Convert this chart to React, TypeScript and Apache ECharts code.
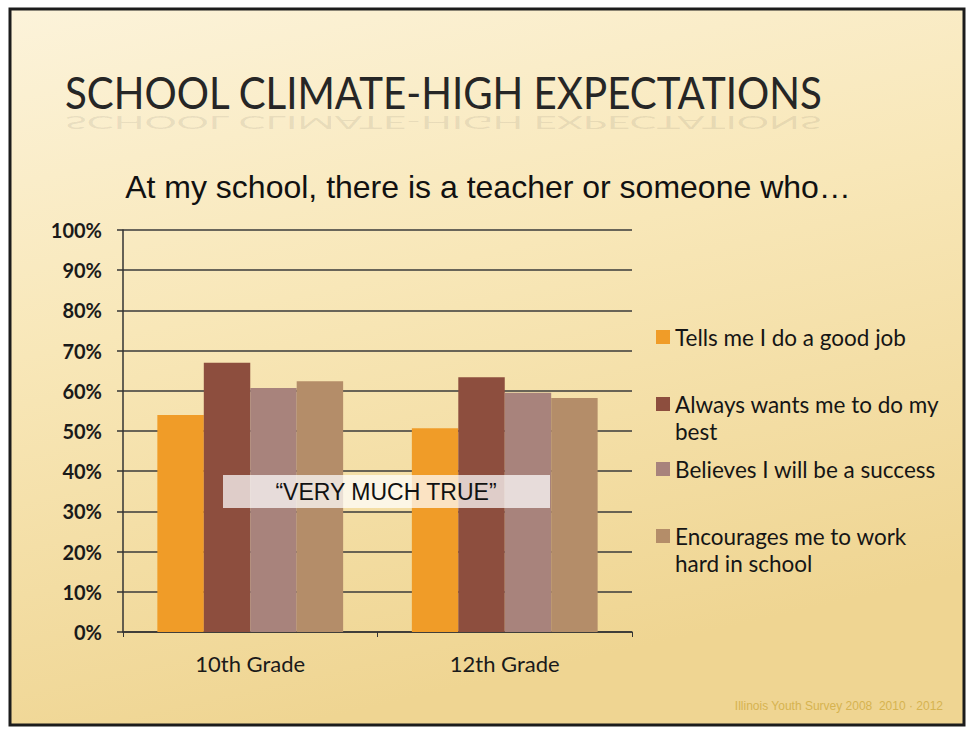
import React, { useEffect, useRef } from "react";
import * as echarts from "echarts";

const categories = ["10th Grade", "12th Grade"];
const seriesNames = [
  "Tells me I do a good job",
  "Always wants me to do my best",
  "Believes I will be a success",
  "Encourages me to work hard in school",
];
const tellsGoodJob = [54, 50.7];
const alwaysBest = [67, 63.4];
const believesSuccess = [60.7, 59.5];
const encouragesWork = [62.4, 58.2];
const seriesValues = [tellsGoodJob, alwaysBest, believesSuccess, encouragesWork];
const seriesColors = ["#f09c28", "#8d4e3e", "#a8837c", "#b48d69"];
const yTicks = [0, 10, 20, 30, 40, 50, 60, 70, 80, 90, 100];

const titleText = "SCHOOL CLIMATE-HIGH EXPECTATIONS";
const subtitleText = "At my school, there is a teacher or someone who…";
const boxText = "“VERY MUCH TRUE”";
const footerText = "Illinois Youth Survey 2008  2010 · 2012";

export default function App() {
  const ref = useRef<HTMLDivElement>(null);
  useEffect(() => {
    document.body.style.margin = "0";
    const chart = echarts.init(ref.current!, null, { renderer: "svg" });
    const legendTops = [323.5, 363.5, 455.5, 495.5];
    const twoLine = [false, true, false, true];
    const option: any = {
      animation: false,
      backgroundColor: "#ffffff",
      grid: { left: 123, right: 339, top: 230, bottom: 97 },
      legend: seriesNames.map((n, i) => ({
        data: [n],
        left: 656,
        top: legendTops[i],
        padding: 0,
        orient: "vertical",
        itemWidth: 14,
        itemHeight: 14,
        icon: "rect",
        selectedMode: false,
        formatter: (name: string) => (twoLine[i] ? "\n" + name : name),
        textStyle: {
          fontFamily: "Lato",
          fontSize: 22.5,
          color: "#151515",
          width: 275,
          overflow: "break",
          lineHeight: 27,
        },
      })),
      xAxis: {
        type: "category",
        data: categories,
        axisLine: { lineStyle: { color: "#333", width: 1.5 } },
        axisTick: { show: true, length: 5, lineStyle: { color: "#333" } },
        axisLabel: {
          fontFamily: "Lato",
          fontSize: 22,
          color: "#1a1a1a",
          margin: 20,
        },
      },
      yAxis: {
        type: "value",
        min: yTicks[0],
        max: yTicks[yTicks.length - 1],
        interval: 10,
        axisLine: { show: true, lineStyle: { color: "#333", width: 1.5 } },
        axisTick: { show: true, length: 6, lineStyle: { color: "#333", width: 1.5 } },
        splitLine: { lineStyle: { color: "#3a3a3a", width: 1.6 } },
        axisLabel: {
          formatter: "{value}%",
          fontFamily: "Lato",
          fontWeight: "bold",
          fontSize: 20,
          color: "#1a1a1a",
          margin: 21,
        },
      },
      series: seriesNames.map((n, i) => ({
        name: n,
        type: "bar",
        data: seriesValues[i],
        barGap: "0%",
        barCategoryGap: "27%",
        itemStyle: { color: seriesColors[i] },
        z: 2,
      })),
      graphic: [
        {
          type: "rect",
          z: -10,
          silent: true,
          shape: { x: 10, y: 9, width: 954, height: 716 },
          style: {
            fill: new echarts.graphic.LinearGradient(0, 0, 0.3, 1, [
              { offset: 0, color: "#fcf3da" },
              { offset: 0.45, color: "#f8e7b8" },
              { offset: 1, color: "#efd592" },
            ]),
            stroke: "#1c1c1c",
            lineWidth: 3,
          },
        },
        {
          type: "line",
          z: -9,
          silent: true,
          shape: { x1: 70, y1: 123, x2: 962, y2: 123 },
          style: {
            stroke: new echarts.graphic.LinearGradient(0, 0, 1, 0, [
              { offset: 0, color: "rgba(200,160,80,0.3)" },
              { offset: 0.2, color: "rgba(190,150,70,0.9)" },
              { offset: 1, color: "rgba(200,160,80,0.8)" },
            ]),
            lineWidth: 2,
          },
        },
        {
          type: "text",
          z: 5,
          x: 65,
          y: 114,
          scaleX: 0.915,
          style: {
            text: titleText,
            fontFamily: "Lato",
            fontSize: 44,
            fill: "#262626",
            verticalAlign: "bottom",
          },
        },
        {
          type: "text",
          z: 4,
          x: 65,
          y: 114,
          scaleX: 0.915,
          scaleY: -0.4,
          style: {
            text: titleText,
            fontFamily: "Lato",
            fontSize: 44,
            fill: "rgba(60,60,60,0.1)",
            verticalAlign: "bottom",
          },
        },
        {
          type: "text",
          z: 5,
          x: 488,
          y: 187,
          style: {
            text: subtitleText,
            fontFamily: "Liberation Sans",
            fontSize: 32,
            fill: "#111",
            align: "center",
            verticalAlign: "middle",
          },
        },
        {
          type: "rect",
          z: 10,
          silent: true,
          shape: { x: 223, y: 475, width: 327, height: 33 },
          style: { fill: "rgba(255,255,255,0.72)" },
        },
        {
          type: "text",
          z: 11,
          x: 386,
          y: 492,
          style: {
            text: boxText,
            fontFamily: "Liberation Sans",
            fontSize: 23,
            fill: "#111",
            align: "center",
            verticalAlign: "middle",
          },
        },
        {
          type: "text",
          z: 5,
          x: 943,
          y: 706,
          style: {
            text: footerText,
            fontFamily: "Liberation Sans",
            fontSize: 12,
            fill: "#d6b350",
            align: "right",
            verticalAlign: "middle",
          },
        },
      ],
    };
    chart.setOption(option);
    return () => chart.dispose();
  }, []);
  return (
    <div
      ref={ref}
      style={{ position: "absolute", left: 0, top: 0, width: 971, height: 729 }}
    />
  );
}
